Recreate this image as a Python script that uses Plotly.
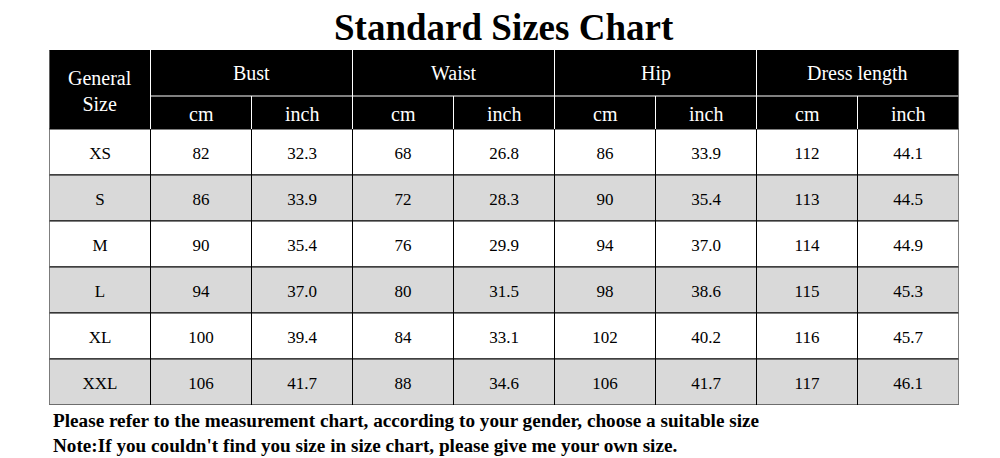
import plotly.graph_objects as go

# ---- data ----
sizes = ["XS", "S", "M", "L", "XL", "XXL"]
groups = ["Bust", "Waist", "Hip", "Dress length"]
units = ["cm", "inch"]
bust_cm = ["82", "86", "90", "94", "100", "106"]
bust_in = ["32.3", "33.9", "35.4", "37.0", "39.4", "41.7"]
waist_cm = ["68", "72", "76", "80", "84", "88"]
waist_in = ["26.8", "28.3", "29.9", "31.5", "33.1", "34.6"]
hip_cm = ["86", "90", "94", "98", "102", "106"]
hip_in = ["33.9", "35.4", "37.0", "38.6", "40.2", "41.7"]
dress_cm = ["112", "113", "114", "115", "116", "117"]
dress_in = ["44.1", "44.5", "44.9", "45.3", "45.7", "46.1"]

title = "Standard Sizes Chart"
notes = [
  "Please refer to the measurement chart, according to your gender, choose a suitable size",
  "Note:If you couldn't find you size in size chart, please give me your own size.",
]

columns = [sizes, bust_cm, bust_in, waist_cm, waist_in, hip_cm, hip_in, dress_cm, dress_in]

SERIF = "Liberation Serif"
H1, H2, ROW = 46, 33, 46          # row heights (y axis units = px)
GRAY = "#d9d9d9"
W, H = 1000, 458
OFF = 8                           # page body margin shifts the figure by this much

def px(x):   # page x pixel -> paper x
  return (x - OFF) / W

def py(y):   # page y pixel -> paper y
  return 1 - (y - OFF) / H

shapes, annots = [], []

def rect(x0, x1, y0, y1, fill, line="black", lw=1):
  shapes.append(dict(type="rect", xref="x", yref="y", x0=x0, x1=x1, y0=y0, y1=y1,
                     fillcolor=fill, line=dict(color=line, width=lw), layer="below"))

def seg(x0, x1, y0, y1, color, lw=1):
  shapes.append(dict(type="line", xref="x", yref="y", x0=x0, x1=x1, y0=y0, y1=y1,
                     line=dict(color=color, width=lw)))

ncol = len(columns)
hdr = H1 + H2
nrow = len(sizes)
total = hdr + ROW * nrow

# header block
rect(0, ncol, 0, hdr, "black", "black", 1)
seg(1, 1, 0, hdr, "white")
for g in range(len(groups)):
  x0 = 1 + 2 * g
  if g > 0:
    seg(x0, x0, 0, hdr, "white")
  seg(x0 + 1, x0 + 1, H1, hdr, "white")
  annots.append(dict(x=x0 + 1, y=H1 / 2, text=groups[g]))
  for u, unit in enumerate(units):
    annots.append(dict(x=x0 + u + 0.5, y=H1 + H2 / 2 + 1.5, text=unit))
seg(1, ncol, H1, H1, "white")
annots.append(dict(x=0.5, y=hdr / 2 + 1, text="General<br>Size"))

# body cells
for r in range(nrow):
  y0 = hdr + r * ROW
  fill = "white" if r % 2 == 0 else GRAY
  for c in range(ncol):
    rect(c, c + 1, y0, y0 + ROW, fill)

xs, ys, txt = [], [], []
for c, col in enumerate(columns):
  for r, v in enumerate(col):
    xs.append(c + 0.5)
    ys.append(hdr + r * ROW + ROW / 2 + 2.5)
    txt.append(v)

fig = go.Figure(go.Scatter(
  x=xs, y=ys, text=txt, mode="text",
  textfont=dict(family=SERIF, size=17, color="black"),
  hoverinfo="skip",
))

for a in annots:
  a.update(xref="x", yref="y", showarrow=False,
           font=dict(family=SERIF, size=20, color="white"))

annots.append(dict(xref="paper", yref="paper", x=px(504), y=py(27), yanchor="middle",
                   text="<b>%s</b>" % title, showarrow=False,
                   font=dict(family=SERIF, size=37, color="black")))
for i, n in enumerate(notes):
  annots.append(dict(xref="paper", yref="paper", x=px(51), y=py(420 + 25 * i),
                     xanchor="left", yanchor="middle", text="<b>%s</b>" % n, showarrow=False,
                     font=dict(family=SERIF, size=19.2, color="black")))

fig.update_layout(
  width=W, height=H,
  margin=dict(l=0, r=0, t=0, b=0),
  paper_bgcolor="white", plot_bgcolor="white",
  xaxis=dict(range=[0, ncol], domain=[px(49.5), px(958.5)], visible=False, fixedrange=True),
  yaxis=dict(range=[total, 0], domain=[py(405), py(50)], visible=False, fixedrange=True),
  shapes=shapes, annotations=annots,
  showlegend=False,
)

fig.write_html("out.html")
